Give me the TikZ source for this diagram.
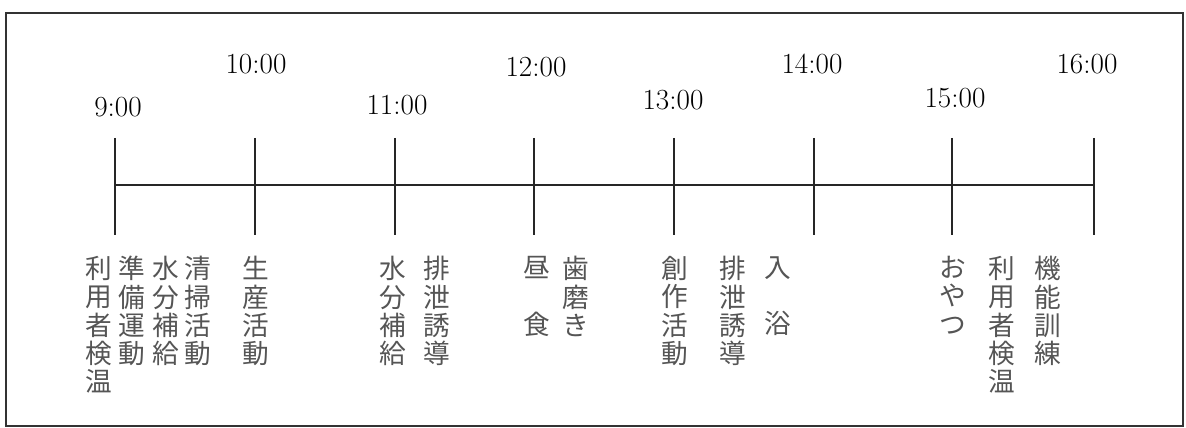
\documentclass[tikz,border=0pt]{standalone}
\usepackage{fontspec}
\newfontfamily\jpfont{Noto Sans CJK JP}
\definecolor{labelgray}{HTML}{555555}

\begin{document}
\begin{tikzpicture}[x=0.6pt,y=-0.6pt]
				\tikzstyle{tick}=[draw, line width=1.1pt, black!85]
				\tikzstyle{hour}=[inner sep=0, font=\fontsize{17.5}{20}\selectfont]
				\tikzstyle{task}=[anchor=north, inner sep=0, align=center, text=labelgray, font=\jpfont\fontsize{16}{17}\selectfont]
				\newcommand\YTickTop{138}
				\newcommand\YTickBot{235}
				\newcommand\YAxis{185}
				\newcommand\YTask{256}

				\useasboundingbox (0,0) rectangle (1186,428);
				% Frame
				\draw [line width=1pt, black!80] (6,13) rectangle (1183,426);

				% Hours
				\node [hour] at (118,107) (h9) {9:00};
				\node [hour] at (256,64) (h10) {10:00};
				\node [hour] at (397,105) (h11) {11:00};
				\node [hour] at (536,67) (h12) {12:00};
				\node [hour] at (673,100) (h13) {13:00};
				\node [hour] at (812,64) (h14) {14:00};
				\node [hour] at (955,98) (h15) {15:00};
				\node [hour] at (1087,64) (h16) {16:00};

				% Ticks
				\coordinate (t9) at (115,\YAxis);
				\coordinate (t9a) at (115,\YTickTop);
				\coordinate (t9b) at (115,\YTickBot);
				\coordinate (t10a) at (255,\YTickTop);
				\coordinate (t10b) at (255,\YTickBot);
				\coordinate (t11a) at (395,\YTickTop);
				\coordinate (t11b) at (395,\YTickBot);
				\coordinate (t12a) at (534,\YTickTop);
				\coordinate (t12b) at (534,\YTickBot);
				\coordinate (t13a) at (674,\YTickTop);
				\coordinate (t13b) at (674,\YTickBot);
				\coordinate (t14a) at (814,\YTickTop);
				\coordinate (t14b) at (814,\YTickBot);
				\coordinate (t15a) at (952,\YTickTop);
				\coordinate (t15b) at (952,\YTickBot);
				\coordinate (t16) at (1094,\YAxis);
				\coordinate (t16a) at (1094,\YTickTop);
				\coordinate (t16b) at (1094,\YTickBot);

				\path [tick] (t9) -- (t16);
				\path [tick] (t9a) -- (t9b);
				\path [tick] (t10a) -- (t10b);
				\path [tick] (t11a) -- (t11b);
				\path [tick] (t12a) -- (t12b);
				\path [tick] (t13a) -- (t13b);
				\path [tick] (t14a) -- (t14b);
				\path [tick] (t15a) -- (t15b);
				\path [tick] (t16a) -- (t16b);

				% Tasks
				\node [task] at (99,\YTask) (kenon1) {利\\用\\者\\検\\温};
				\node [task] at (132,\YTask) (junbi) {準\\備\\運\\動};
				\node [task] at (166,\YTask) (suibun1) {水\\分\\補\\給};
				\node [task] at (198,\YTask) (seisou) {清\\掃\\活\\動};
				\node [task] at (256,\YTask) (seisan) {生\\産\\活\\動};
				\node [task] at (393,\YTask) (suibun2) {水\\分\\補\\給};
				\node [task] at (437,\YTask) (haisetsu1) {排\\泄\\誘\\導};
				\node [task] at (537,\YTask) (chushoku) {昼\\　\\食};
				\node [task] at (576,\YTask) (hamigaki) {歯\\磨\\き};
				\node [task] at (675,\YTask) (sousaku) {創\\作\\活\\動};
				\node [task] at (733,\YTask) (haisetsu2) {排\\泄\\誘\\導};
				\node [task] at (778,\YTask) (nyuyoku) {入\\　\\浴};
				\node [task] at (953,\YTask) (oyatsu) {お\\や\\つ};
				\node [task] at (1002,\YTask) (kenon2) {利\\用\\者\\検\\温};
				\node [task] at (1048,\YTask) (kinou) {機\\能\\訓\\練};
\end{tikzpicture}
\end{document}
